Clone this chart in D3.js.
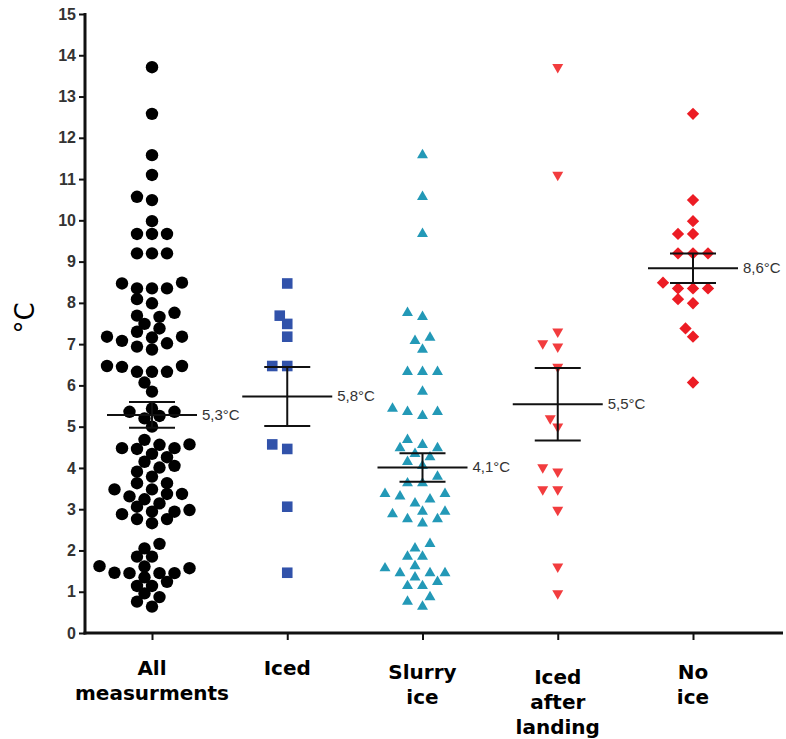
<!DOCTYPE html>
<html>
<head>
<meta charset="utf-8">
<script src="https://cdn.jsdelivr.net/npm/d3@7"></script>
<style>
  body { margin: 0; background: #fff; }
  svg { display: block; }
</style>
</head>
<body>
<div id="chart"></div>
<script>
// data ------------------------------------
const categories = ["All measurments", "Iced", "Slurry ice", "Iced after landing", "No ice"]
const categoryLines = [["All", "measurments"], ["Iced"], ["Slurry", "ice"], ["Iced", "after", "landing"], ["No", "ice"]]

const iced = [8.47, 7.69, 7.49, 7.18, 6.47, 6.47, 4.57, 4.46, 3.06, 1.46]
const slurryIce = [11.58, 10.57, 9.67, 7.76, 7.66, 7.16, 7.08, 6.87, 6.33, 6.33, 6.33, 5.85,
  5.44, 5.36, 5.26, 5.36, 4.68, 4.56, 4.48, 4.48, 4.34, 4.26, 4.05, 4.15, 3.79, 3.63, 3.63,
  3.37, 3.31, 3.14, 3.24, 3.37, 2.94, 2.76, 2.66, 2.76, 2.88, 2.94, 2.16, 2.05, 1.85, 1.85,
  1.57, 1.62, 1.45, 1.45, 1.35, 1.45, 1.14, 1.14, 1.24, 0.87, 0.76, 0.64]
const icedAfterLanding = [13.71, 11.1, 7.3, 7.02, 6.94, 6.45, 5.2, 5.0, 4.01, 3.91, 3.48, 3.48, 2.98, 1.61, 0.96]
const noIce = [12.58, 10.49, 9.98, 9.67, 9.67, 9.2, 9.2, 9.2, 8.49, 8.35, 8.35, 8.35, 8.09, 7.99, 7.38, 7.18, 6.07]
// "All measurments" is the pooled set of the four groups
const allMeasurements = [...iced, ...slurryIce, ...icedAfterLanding, ...noIce]

const meanLabels = ["5,3°C", "5,8°C", "4,1°C", "5,5°C", "8,6°C"]
const yTickValues = [0, 1, 2, 3, 4, 5, 6, 7, 8, 9, 10, 11, 12, 13, 14, 15]

const groups = [allMeasurements, iced, slurryIce, icedAfterLanding, noIce]
const markers = ["circle", "square", "triangle", "triangleDown", "diamond"]
const colors = ["#000000", "#3152aa", "#2399b7", "#f23c3e", "#ec1c24"]

// layout ----------------------------------
const W = 786, H = 739
const X0 = 85, X1 = 783, Y0 = 633, Y1 = 14

const svg = d3.select("#chart").append("svg")
  .attr("width", W).attr("height", H)
  .attr("viewBox", `0 0 ${W} ${H}`)

const y = d3.scaleLinear().domain([0, 15]).range([Y0, Y1])
const x = d3.scalePoint().domain(categories).range([152, 693])

// greedy beeswarm on a 7.5px grid, bottom to top
function swarm(values, cx, minDist, step) {
  const pts = values.map(v => ({ v, y: y(v) })).sort((a, b) => b.y - a.y)
  const placed = []
  pts.forEach(p => {
    for (let k = 0; k < 60; k++) {
      const off = k === 0 ? 0 : (k % 2 ? -1 : 1) * Math.ceil(k / 2) * step
      const px = cx + off
      const ok = placed.every(q => (q.x - px) ** 2 + (q.y - p.y) ** 2 >= minDist * minDist)
      if (ok) { p.x = px; break }
    }
    placed.push(p)
  })
  return placed
}

const symbolPath = {
  square: d3.symbol(d3.symbolSquare, 112)(),
  triangle: d3.symbol(d3.symbolTriangle, 52)(),
  triangleDown: d3.symbol(d3.symbolTriangle, 52)(),
  diamond: d3.symbol(d3.symbolSquare, 76)()
}
const symbolRotate = { square: 0, triangle: 0, triangleDown: 180, diamond: 45 }

// POINTS ----------------------------------
groups.forEach((vals, i) => {
  const cx = x(categories[i])
  const pts = swarm(vals, cx, 10.5, 7.5)
  const g = svg.append("g").attr("class", "points")
  if (markers[i] === "circle") {
    g.selectAll("circle").data(pts).enter().append("circle")
      .attr("cx", d => d.x).attr("cy", d => d.y)
      .attr("r", 6.2).attr("fill", colors[i])
  } else {
    g.selectAll("path").data(pts).enter().append("path")
      .attr("d", symbolPath[markers[i]])
      .attr("transform", d => `translate(${d.x},${d.y}) rotate(${symbolRotate[markers[i]]})`)
      .attr("fill", colors[i])
  }
})

// MEAN +/- SEM ----------------------------
groups.forEach((vals, i) => {
  const cx = x(categories[i])
  const m = d3.mean(vals)
  const sem = d3.deviation(vals) / Math.sqrt(vals.length)
  const g = svg.append("g").attr("stroke", "#111").attr("stroke-width", 2)
  g.append("line").attr("x1", cx - 45).attr("x2", cx + 45).attr("y1", y(m)).attr("y2", y(m))
  g.append("line").attr("x1", cx - 23).attr("x2", cx + 23).attr("y1", y(m + sem)).attr("y2", y(m + sem))
  g.append("line").attr("x1", cx - 23).attr("x2", cx + 23).attr("y1", y(m - sem)).attr("y2", y(m - sem))
  g.append("line").attr("x1", cx).attr("x2", cx).attr("y1", y(m + sem)).attr("y2", y(m - sem))
  svg.append("text")
    .attr("x", cx + 50).attr("y", y(m) + 5)
    .attr("font-family", "Liberation Sans, Arial, sans-serif")
    .attr("font-size", 15).attr("fill", "#333")
    .text(meanLabels[i])
})

// AXES ------------------------------------
const gY = svg.append("g").attr("transform", `translate(${X0},0)`)
  .call(d3.axisLeft(y).tickValues(yTickValues).tickSize(6).tickSizeOuter(0).tickPadding(3))
gY.select(".domain").attr("stroke", "#111").attr("stroke-width", 3)
  .attr("d", `M0,${Y1 - 1}V${Y0 + 1.5}`)
gY.selectAll(".tick line").attr("stroke", "#111").attr("stroke-width", 2)
gY.selectAll(".tick text")
  .attr("font-family", "Liberation Sans, Arial, sans-serif")
  .attr("font-weight", "bold").attr("font-size", 16).attr("fill", "#333")

const gX = svg.append("g").attr("transform", `translate(0,${Y0})`)
  .call(d3.axisBottom(x).tickSize(7).tickSizeOuter(0).tickFormat(""))
gX.select(".domain").attr("stroke", "#111").attr("stroke-width", 3)
  .attr("d", `M${X0 - 1.5},0H${X1}`)
gX.selectAll(".tick line").attr("stroke", "#111").attr("stroke-width", 2)

const baseY = [675, 675, 679, 684, 679]
categories.forEach((c, i) => {
  const t = svg.append("text")
    .attr("x", x(c)).attr("y", baseY[i])
    .attr("text-anchor", "middle")
    .attr("font-family", "DejaVu Sans, Verdana, sans-serif")
    .attr("font-weight", "bold").attr("font-size", 20).attr("fill", "#000")
  categoryLines[i].forEach((ln, j) => {
    t.append("tspan").attr("x", x(c)).attr("dy", j === 0 ? 0 : 25).text(ln)
  })
})

svg.append("text")
  .attr("transform", `translate(34,318) rotate(-90)`)
  .attr("text-anchor", "middle")
  .attr("font-family", "DejaVu Sans, Verdana, sans-serif")
  .attr("font-size", 26).attr("fill", "#000")
  .text("°C")
</script>
</body>
</html>
